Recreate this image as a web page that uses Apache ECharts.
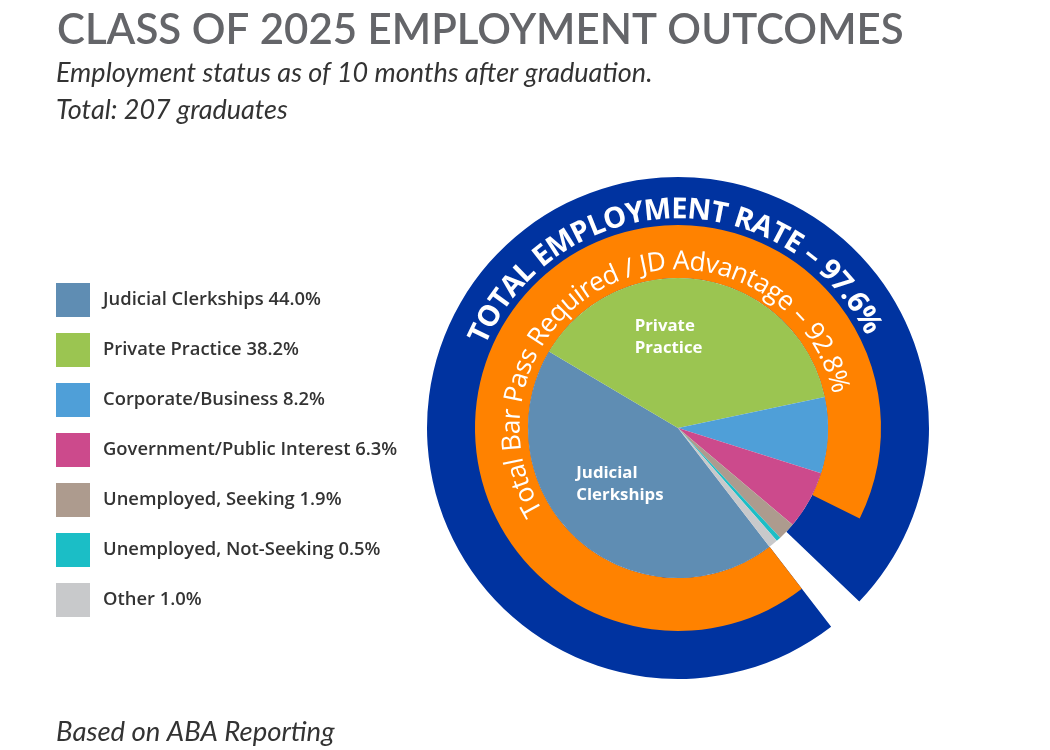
<!DOCTYPE html>
<html>
<head>
    <meta charset="utf-8">
    <title>Class of 2025 Employment Outcomes</title>
    <script src="https://cdn.jsdelivr.net/npm/echarts@6/dist/echarts.min.js"></script>
    <style>
        html, body { margin: 0; padding: 0; background: #fff; }
        #main { width: 1050px; height: 750px; }
    </style>
</head>
<body>
<div id="main"></div>
<script>
    // chart data
    var categories = ['Judicial Clerkships', 'Private Practice', 'Corporate/Business',
        'Government/Public Interest', 'Unemployed, Seeking', 'Unemployed, Not-Seeking', 'Other'];
    var shares = [44.0, 38.2, 8.2, 6.3, 1.9, 0.5, 1.0];
    var colors = ['#5f8db3', '#9bc551', '#4f9fd8', '#cc4a8c', '#ad9b8e', '#1bbec6', '#c8c9cb'];
    var employmentRate = 97.6;
    var barPassRate = 92.8;

    var cx = 678, cy = 428;      // pie centre in px
    var startAngle = 307.6;       // where Judicial Clerkships begins

    var myChart = echarts.init(document.getElementById('main'));

    // text bent along a ring, one char per graphic element
    function arcText(str, r, midDeg, spanDeg, weight, family, color) {
        var ctx = document.createElement('canvas').getContext('2d');
        ctx.font = weight + ' 100px "' + family + '"';
        var total = ctx.measureText(str).width;
        var arcLen = spanDeg * Math.PI / 180 * r;
        var k = arcLen / total;
        var size = 100 * k;
        var a0 = (midDeg + spanDeg / 2) * Math.PI / 180;
        var out = [];
        for (var i = 0; i < str.length; i++) {
            var c = str.charAt(i);
            if (c === ' ') continue;
            var s = (ctx.measureText(str.slice(0, i)).width + ctx.measureText(str.slice(0, i + 1)).width) / 2 * k;
            var t = a0 - s / r;
            out.push({
                type: 'text',
                x: cx + r * Math.cos(t),
                y: cy - r * Math.sin(t),
                rotation: t - Math.PI / 2,
                silent: true,
                z: 100,
                style: {
                    text: c,
                    font: weight + ' ' + size.toFixed(2) + 'px "' + family + '"',
                    fill: color,
                    align: 'center',
                    verticalAlign: 'middle',
                    textAlign: 'center',
                    textVerticalAlign: 'middle'
                }
            });
        }
        return out;
    }

    var pieData = [];
    for (var i = 0; i < categories.length; i++) {
        pieData.push({
            name: categories[i],
            value: shares[i],
            itemStyle: {color: colors[i]},
            label: {show: i < 2}
        });
    }

    var labelNames = {
        'Judicial Clerkships': 'Judicial\nClerkships',
        'Private Practice': 'Private\nPractice'
    };

    var graphics = []
        .concat(arcText('TOTAL EMPLOYMENT RATE \u2013 ' + employmentRate.toFixed(1) + '%', 218, 91.4, 130.6, 'bold', 'Open Sans', '#ffffff'))
        .concat(arcText('Total Bar Pass Required / JD Advantage \u2013 ' + barPassRate.toFixed(1) + '%', 166, 111.9, 199, 'normal', 'Open Sans', '#ffffff'));

    var option = {
        animation: false,
        title: [{
            text: 'CLASS OF 2025 EMPLOYMENT OUTCOMES',
            left: 52,
            top: 4,
            textStyle: {fontFamily: 'Lato', fontWeight: 600, fontSize: 42, color: '#646569'}
        }, {
            text: 'Employment status as of 10 months after graduation.\nTotal: 207 graduates',
            left: 51,
            top: 50,
            textStyle: {fontFamily: 'Lato', fontStyle: 'italic', fontWeight: 'normal', fontSize: 27, lineHeight: 37, color: '#333333'}
        }, {
            text: 'Based on ABA Reporting',
            left: 51,
            top: 714,
            textStyle: {fontFamily: 'Lato', fontStyle: 'italic', fontWeight: 'normal', fontSize: 27.5, color: '#333333'}
        }],
        legend: {
            data: categories,
            orient: 'vertical',
            left: 51,
            top: 278,
            itemWidth: 34,
            itemHeight: 34,
            itemGap: 16,
            icon: 'rect',
            selectedMode: false,
            formatter: function (name) {
                return name + ' ' + shares[categories.indexOf(name)].toFixed(1) + '%';
            },
            textStyle: {fontFamily: 'Open Sans', fontWeight: 600, fontSize: 18.4, color: '#333333', padding: [0, 0, 0, 8]}
        },
        graphic: graphics,
        series: [{
            // blue ring
            type: 'pie',
            silent: true,
            z: 1,
            center: [cx, cy],
            radius: [150, 251],
            startAngle: startAngle,
            label: {show: false},
            labelLine: {show: false},
            emphasis: {disabled: true},
            data: [
                {name: 'Total Employment Rate', value: employmentRate, itemStyle: {color: '#0033a0'}},
                {name: 'rest1', value: 100 - employmentRate, itemStyle: {color: 'rgba(0,0,0,0)'}}
            ]
        }, {
            // orange ring
            type: 'pie',
            silent: true,
            z: 2,
            center: [cx, cy],
            radius: [150, 203],
            startAngle: startAngle,
            label: {show: false},
            labelLine: {show: false},
            emphasis: {disabled: true},
            data: [
                {name: 'Bar Pass Required / JD Advantage', value: barPassRate, itemStyle: {color: '#ff8200'}},
                {name: 'rest2', value: 100 - barPassRate, itemStyle: {color: 'rgba(0,0,0,0)'}}
            ]
        }, {
            type: 'pie',
            z: 3,
            center: [cx, cy],
            radius: [0, 150],
            startAngle: startAngle,
            emphasis: {disabled: true},
            label: {
                position: 'inside',
                color: '#ffffff',
                fontFamily: 'Open Sans',
                fontWeight: 'bold',
                fontSize: 16.8,
                lineHeight: 22,
                formatter: function (p) {
                    return labelNames[p.name] || '';
                }
            },
            labelLine: {show: false},
            labelLayout: function (p) {
                if (p.dataIndex === 0) return {dx: -50, dy: -2, align: 'left'};
                if (p.dataIndex === 1) return {dx: -56, dy: -14, align: 'left'};
                return {};
            },
            data: pieData
        }]
    };

    myChart.setOption(option);
</script>
</body>
</html>
